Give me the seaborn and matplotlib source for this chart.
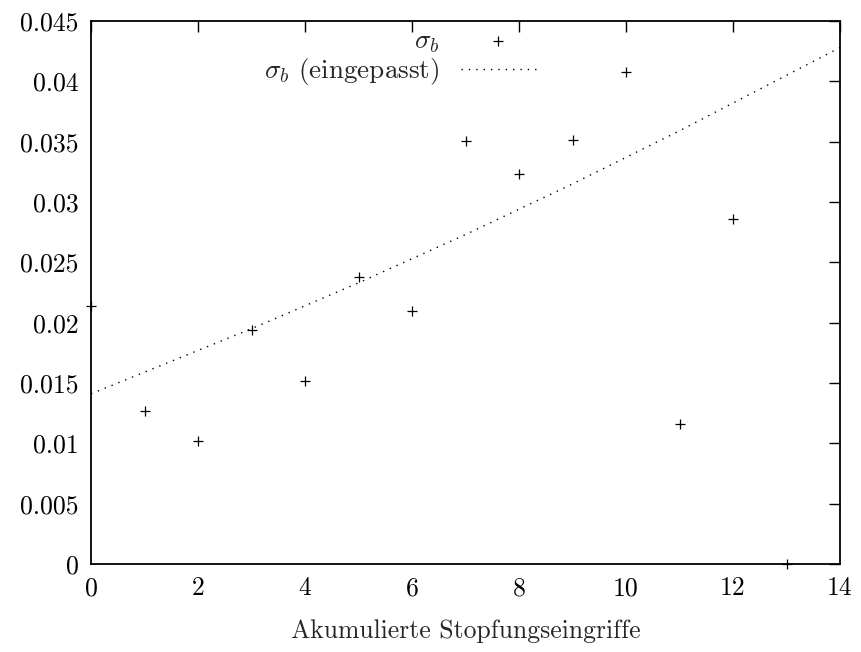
import matplotlib
matplotlib.use("Agg")
import matplotlib.pyplot as plt
import seaborn as sns
import numpy as np
import pandas as pd

# data
x_vals = [0, 1, 2, 3, 4, 5, 6, 7, 8, 9, 10, 11, 12, 13]
sigma_b = [0.0214, 0.01265, 0.0102, 0.0194, 0.0152, 0.0238, 0.0210, 0.03505,
           0.0323, 0.0351, 0.0408, 0.0116, 0.0286, 0.0]
fit_x = [0, 1, 2, 3, 4, 5, 6, 7, 8, 9, 10, 11, 12, 13, 14]
fit_y = [0.0141, 0.0159, 0.0177, 0.0195, 0.0214, 0.0233, 0.0253, 0.0273,
         0.0294, 0.0315, 0.0337, 0.0359, 0.0382, 0.0405, 0.0428]
x_ticks = [0, 2, 4, 6, 8, 10, 12, 14]
y_ticks = [0, 0.005, 0.01, 0.015, 0.02, 0.025, 0.03, 0.035, 0.04, 0.045]
y_tick_labels = ["0", "0.005", "0.01", "0.015", "0.02", "0.025", "0.03",
                 "0.035", "0.04", "0.045"]

sns.set_style("white")
plt.rcParams["font.family"] = ["cmr10", "DejaVu Serif"]
plt.rcParams["mathtext.fontset"] = "cm"
plt.rcParams["axes.unicode_minus"] = False

fig = plt.figure(figsize=(8.61, 6.52), dpi=100)
ax = fig.add_axes([91/861, 1 - 564/652, (840-91)/861, (564-21)/652])

pts = pd.DataFrame({"x": x_vals, "y": sigma_b})
fit = pd.DataFrame({"x": fit_x, "y": fit_y})

sns.scatterplot(data=pts, x="x", y="y", marker="+", s=50, color="black",
                linewidth=0.9, ax=ax, label=r"$\sigma_b$", clip_on=False, zorder=3)
sns.lineplot(data=fit, x="x", y="y", color="black", lw=1.0,
             linestyle=(0, (1, 4.3)), ax=ax, label=r"$\sigma_b$ (eingepasst)")

ax.set_xlim(0, 14)
ax.set_ylim(0, 0.045)
ax.set_xticks(x_ticks)
ax.set_xticklabels([str(t) for t in x_ticks])
ax.set_yticks(y_ticks)
ax.set_yticklabels(y_tick_labels)
ax.tick_params(direction="in", length=8, width=1, top=True, right=True,
               labelsize=18.5, pad=9, colors="black")
for sp in ax.spines.values():
    sp.set_linewidth(1.3)
    sp.set_color("black")
ax.set_xlabel("Akumulierte Stopfungseingriffe", fontsize=18.5, labelpad=14)
ax.set_ylabel("")

leg = ax.legend(loc="upper right", bbox_to_anchor=((560-91)/749, 1.03),
                frameon=False, markerfirst=False, fontsize=19.5,
                handlelength=2.75, handletextpad=0.8, labelspacing=0.05)
for t in leg.get_texts():
    t.set_ha("right")

fig.savefig("out.png", dpi=100)
